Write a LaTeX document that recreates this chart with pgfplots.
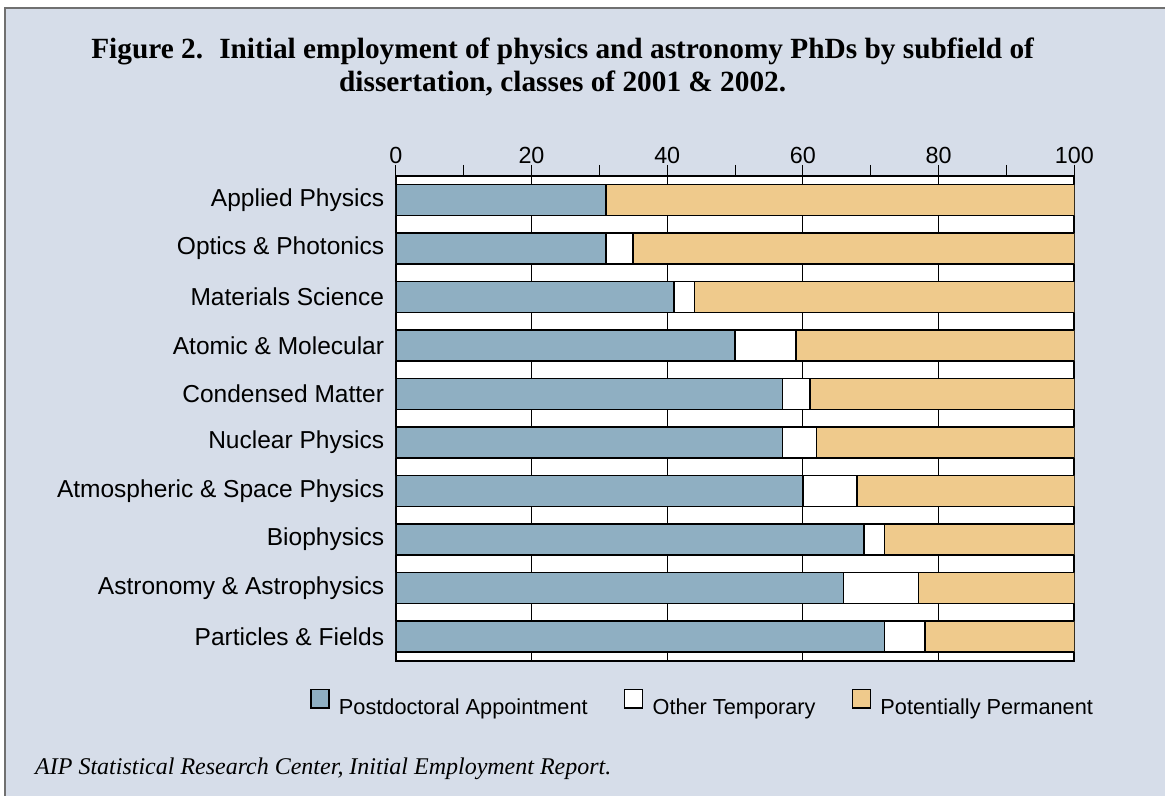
\documentclass[border=0pt]{standalone}
\usepackage{pgfplots}
\pgfplotsset{compat=1.18}
\usepackage{fontspec}
\setmainfont{Liberation Sans}
\newfontfamily\serifft{Liberation Serif}
\definecolor{bgpanel}{HTML}{D6DDE9}
\definecolor{postdoc}{HTML}{8FAFC2}
\definecolor{perm}{HTML}{EFCA8C}
\definecolor{framegray}{HTML}{707070}
\pgfplotsset{boxlegend/.style={legend image code/.code={\draw[##1,line width=1.2pt] (0pt,-0.5pt) rectangle (13.5pt,13.3pt);}}}
\begin{document}
\begin{tikzpicture}[x=0.75pt,y=-0.75pt]
\fill[white] (0,0) rectangle (1166,796);
\fill[bgpanel] (5,8) rectangle (1166,796);
\draw[framegray,line width=1pt] (5,796) -- (5,8) -- (1166,8);
\node[anchor=base,font=\serifft\bfseries\fontsize{22}{24}\selectfont] at (563,59)
  {Figure 2.\hspace{0.55em}Initial employment of physics and astronomy PhDs by subfield of};
\node[anchor=base,font=\serifft\bfseries\fontsize{22}{24}\selectfont] at (563,92)
  {dissertation, classes of 2001 \& 2002.};
\node[anchor=base west,inner sep=0pt,font=\serifft\itshape\fontsize{18}{20}\selectfont] at (35,775)
  {AIP Statistical Research Center, Initial Employment Report.};
\begin{axis}[
  at={(297pt,-495.75pt)}, anchor=south west, scale only axis,
  width=509.25pt, height=363.75pt,
  xbar stacked, bar width=0.64,
  xmin=0, xmax=100, ymin=-0.5, ymax=9.5, y dir=reverse,
  ytick={0,...,9},
  yticklabels={Applied Physics,Optics \& Photonics,Materials Science,Atomic \& Molecular,Condensed Matter,Nuclear Physics,Atmospheric \& Space Physics,Biophysics,Astronomy \& Astrophysics,Particles \& Fields},
  xtick={0,20,40,60,80,100}, minor xtick={10,30,50,70,90},
  xtick pos=right, xticklabel pos=right,
  tick align=outside, major tick length=8.25pt, minor tick length=8.25pt,
  ytick style={draw=none},
  tick style={black,line width=0.75pt},
  xmajorgrids, major grid style={black,line width=0.75pt},
  axis line style={black,line width=1.6pt},
  axis background/.style={fill=white},
  /pgf/number format/assume math mode=true,
  xticklabel style={font=\fontsize{17.5}{20}\selectfont, inner sep=1pt},
  yticklabel style={font=\fontsize{18.4}{20}\selectfont, xshift=3pt},
  legend columns=3,
  legend style={at={(-0.1267,-0.0887)}, anchor=west, draw=none, fill=none, inner sep=0pt,
    font=\fontsize{16.3}{18}\selectfont,
    /tikz/every odd column/.append style={column sep=5pt},
    /tikz/every even column/.append style={column sep=25pt}},
  legend cell align=left,
]
\addplot[fill=postdoc, draw=black, line width=1.2pt, boxlegend]
  coordinates {(31,0) (31,1) (41,2) (50,3) (57,4) (57,5) (60,6) (69,7) (66,8) (72,9)};
\addlegendentry{Postdoctoral Appointment}
\addplot[fill=white, draw=black, line width=1.2pt, boxlegend]
  coordinates {(0,0) (4,1) (3,2) (9,3) (4,4) (5,5) (8,6) (3,7) (11,8) (6,9)};
\addlegendentry{Other Temporary}
\addplot[fill=perm, draw=black, line width=1.2pt, boxlegend]
  coordinates {(69,0) (65,1) (56,2) (41,3) (39,4) (38,5) (32,6) (28,7) (23,8) (22,9)};
\addlegendentry{Potentially Permanent}
\end{axis}
\end{tikzpicture}
\end{document}
